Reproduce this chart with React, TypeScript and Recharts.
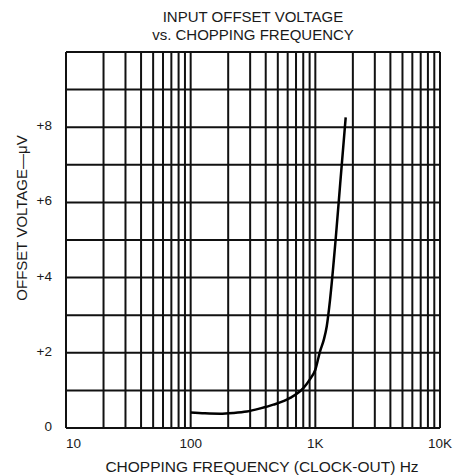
import { CartesianGrid, Line, LineChart, XAxis, YAxis } from "recharts";

// Curve: chopping frequency (Hz) vs input offset voltage (µV).
const FREQ_HZ = [100, 130, 172, 220, 282, 360, 461, 627, 801, 907, 1000, 1091, 1170, 1234, 1312, 1454, 1583, 1752];
const OFFSET_UV = [0.41, 0.39, 0.38, 0.4, 0.44, 0.52, 0.62, 0.8, 1.06, 1.3, 1.55, 2.04, 2.35, 2.7, 3.41, 5.0, 6.5, 8.26];

// Log-paper grid lines (every integer multiple inside each decade).
const X_GRID = [
  10, 20, 30, 40, 50, 60, 70, 80, 90,
  100, 200, 300, 400, 500, 600, 700, 800, 900,
  1000, 2000, 3000, 4000, 5000, 6000, 7000, 8000, 9000,
  10000,
];
const X_LABELS: Record<number, string> = { 10: "10", 100: "100", 1000: "1K", 10000: "10K" };

const Y_GRID = [0, 1, 2, 3, 4, 5, 6, 7, 8, 9, 10];
const Y_LABELS: Record<number, string> = { 0: "0", 2: "+2", 4: "+4", 6: "+6", 8: "+8" };

const TITLE = ["INPUT OFFSET VOLTAGE", "vs. CHOPPING FREQUENCY"];
const X_TITLE = "CHOPPING FREQUENCY (CLOCK-OUT) Hz";
const Y_TITLE = "OFFSET VOLTAGE—\u03bcV";

const FONT = "'Liberation Sans', Arial, sans-serif";
const INK = "#1a1a1a";

const data = FREQ_HZ.map((f, i) => ({ f, v: OFFSET_UV[i] }));

function XTick(props: any) {
  const { x, y, payload } = props;
  const label = X_LABELS[payload.value];
  if (!label) return null;
  // the "10" sits to the right of the corner on the original
  const anchor = payload.value === 10 ? "start" : "middle";
  return (
    <text x={x} y={y + 12} textAnchor={anchor} fontSize={13.5} fill={INK} fontFamily={FONT}>
      {label}
    </text>
  );
}

function YTick(props: any) {
  const { x, y, payload } = props;
  const label = Y_LABELS[payload.value];
  if (!label) return null;
  return (
    <text x={x - 6} y={y + 3} textAnchor="end" fontSize={13.5} fill={INK} fontFamily={FONT}>
      {label}
    </text>
  );
}

export default function App() {
  return (
    <div style={{ position: "absolute", left: 0, top: 0, width: 458, height: 476, background: "#fff", fontFamily: FONT, color: INK }}>
      <div style={{ position: "absolute", left: 66, width: 374, top: 8, textAlign: "center", fontSize: 15, lineHeight: "18px" }}>
        {TITLE.map((t) => (
          <div key={t}>{t}</div>
        ))}
      </div>
      <div style={{ position: "absolute", left: 62, width: 400, top: 458, textAlign: "center", fontSize: 15.5 }}>
        {X_TITLE}
      </div>
      <div
        style={{
          position: "absolute",
          left: 22,
          top: 218,
          width: 260,
          marginLeft: -130,
          marginTop: -9,
          textAlign: "center",
          fontSize: 15,
          lineHeight: "18px",
          transform: "rotate(-90deg)",
        }}
      >
        {Y_TITLE}
      </div>
      <LineChart width={458} height={476} data={data} margin={{ top: 52, right: 18, bottom: 18, left: 0 }}>
        <CartesianGrid stroke="#111" strokeWidth={2} verticalValues={X_GRID} horizontalValues={Y_GRID} />
        <XAxis
          dataKey="f"
          type="number"
          scale="log"
          domain={[10, 10000]}
          ticks={X_GRID}
          interval={0}
          height={30}
          allowDataOverflow
          tick={<XTick />}
          tickLine={false}
          axisLine={{ stroke: "#111", strokeWidth: 2 }}
        />
        <YAxis
          type="number"
          domain={[0, 10]}
          ticks={Y_GRID}
          interval={0}
          width={66}
          tick={<YTick />}
          tickLine={false}
          axisLine={{ stroke: "#111", strokeWidth: 2 }}
        />
        <Line
          dataKey="v"
          type="monotone"
          stroke="#000"
          strokeWidth={2.5}
          dot={false}
          isAnimationActive={false}
        />
      </LineChart>
    </div>
  );
}
